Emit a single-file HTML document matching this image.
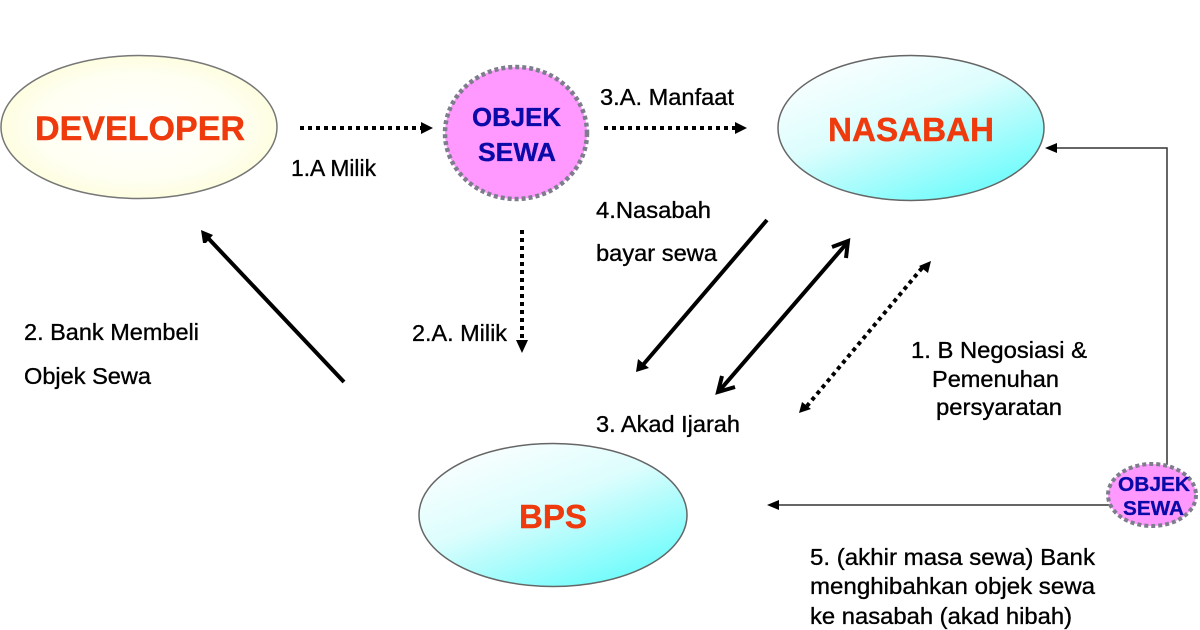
<!DOCTYPE html>
<html>
<head>
<meta charset="utf-8">
<style>
html,body{margin:0;padding:0;background:#fff}
svg{display:block}
text{font-family:"Liberation Sans",Arial,sans-serif}
.l{font-size:23.5px;fill:#000;stroke:#000;stroke-width:.35px}
.t{font-weight:bold;fill:#ee3a0c;stroke:#ee3a0c;stroke-width:.4px}
.o{font-weight:bold;fill:#0a0aa8;stroke:#0a0aa8;stroke-width:.3px}
</style>
</head>
<body>
<svg width="1200" height="630" viewBox="0 0 1200 630" xmlns="http://www.w3.org/2000/svg">
<defs>
<radialGradient id="y" cx="0.5" cy="0.5" r="0.62"><stop offset="0" stop-color="#ffffff"/><stop offset="0.6" stop-color="#fffff2"/><stop offset="1" stop-color="#fcfcd0"/></radialGradient>
<linearGradient id="c" x1="0.1" y1="0" x2="0.8" y2="1"><stop offset="0" stop-color="#ffffff"/><stop offset="0.45" stop-color="#ddfdfd"/><stop offset="1" stop-color="#66fbfb"/></linearGradient>
</defs>
<rect width="1200" height="630" fill="#fff"/>

<ellipse cx="139" cy="127" rx="138" ry="71.500" fill="url(#y)" stroke="#777" stroke-width="1.500"/>
<ellipse cx="911" cy="128" rx="133" ry="72.500" fill="url(#c)" stroke="#666" stroke-width="1.500"/>
<ellipse cx="553" cy="515" rx="134" ry="71.500" fill="url(#c)" stroke="#666" stroke-width="1.500"/>
<ellipse cx="516" cy="133" rx="71" ry="66" fill="#ff99ff" stroke="#7d7d8d" stroke-width="4.500" stroke-dasharray="4 3"/>

<text class="t" x="35" y="140" font-size="34" textLength="210" lengthAdjust="spacingAndGlyphs">DEVELOPER</text>
<text class="t" x="828" y="141" font-size="33.500" textLength="166" lengthAdjust="spacingAndGlyphs">NASABAH</text>
<text class="t" x="519" y="528" font-size="33" textLength="68" lengthAdjust="spacingAndGlyphs">BPS</text>
<text class="o" x="472" y="126" font-size="26" textLength="89" lengthAdjust="spacingAndGlyphs">OBJEK</text>
<text class="o" x="478" y="161" font-size="26" textLength="78" lengthAdjust="spacingAndGlyphs">SEWA</text>

<!-- thin connector -->
<polyline points="1167,465 1167,148 1056,148" fill="none" stroke="#333" stroke-width="1.500"/>
<polygon points="1045,148 1057,143 1057,153" fill="#000"/>
<line x1="1110" y1="505" x2="778" y2="505" stroke="#333" stroke-width="1.500"/>
<polygon points="767,505 779,500 779,510" fill="#000"/>

<ellipse cx="1152" cy="495" rx="44" ry="31" fill="#ff99ff" stroke="#7d7d8d" stroke-width="4" stroke-dasharray="4 3"/>
<text class="o" x="1118" y="491" font-size="20.500" textLength="72" lengthAdjust="spacingAndGlyphs">OBJEK</text>
<text class="o" x="1123" y="515" font-size="20.500" textLength="61" lengthAdjust="spacingAndGlyphs">SEWA</text>

<!-- dotted arrows -->
<g stroke="#000" stroke-width="4" stroke-dasharray="4 4" fill="none">
<line x1="300" y1="128" x2="421" y2="128"/>
<line x1="604" y1="128" x2="736" y2="128"/>
<line x1="522" y1="230" x2="522" y2="341"/>
<line x1="922" y1="268" x2="807" y2="406"/>
</g>
<g fill="#000">
<polygon points="433,128 421,122 421,134"/>
<polygon points="747,128 735,122 735,134"/>
<polygon points="522,353 516,340 528,340"/>
<polygon points="931,261 919,266 928,273"/>
<polygon points="799,413 802,402 811,409"/>
</g>

<!-- solid arrows -->
<g stroke="#000" stroke-width="4" fill="none">
<line x1="344" y1="382" x2="208" y2="238"/>
<line x1="767" y1="220" x2="642" y2="366"/>
<line x1="847" y1="243" x2="720" y2="390"/>
<polyline points="832,247 848,241 846,258"/>
<polyline points="722,376 718,392 735,387"/>
</g>
<polygon points="201,230 213,235 206,243 203,243" fill="#000"/>
<polygon points="636,372 638,359 649,368" fill="#000"/>

<!-- labels -->
<text class="l" x="291" y="176" textLength="85" lengthAdjust="spacingAndGlyphs">1.A Milik</text>
<text class="l" x="600" y="105" textLength="134" lengthAdjust="spacingAndGlyphs">3.A. Manfaat</text>
<text class="l" x="596" y="218" textLength="115" lengthAdjust="spacingAndGlyphs">4.Nasabah</text>
<text class="l" x="596" y="261" textLength="121" lengthAdjust="spacingAndGlyphs">bayar sewa</text>
<text class="l" x="24" y="340" textLength="175" lengthAdjust="spacingAndGlyphs">2. Bank Membeli</text>
<text class="l" x="24" y="384" textLength="127" lengthAdjust="spacingAndGlyphs">Objek Sewa</text>
<text class="l" x="412" y="341" textLength="95" lengthAdjust="spacingAndGlyphs">2.A. Milik</text>
<text class="l" x="596" y="432" textLength="144" lengthAdjust="spacingAndGlyphs">3. Akad Ijarah</text>
<text class="l" x="911" y="358" textLength="176" lengthAdjust="spacingAndGlyphs">1. B Negosiasi &amp;</text>
<text class="l" x="932" y="387" textLength="127" lengthAdjust="spacingAndGlyphs">Pemenuhan</text>
<text class="l" x="936" y="415" textLength="126" lengthAdjust="spacingAndGlyphs">persyaratan</text>
<text class="l" x="810" y="565" textLength="285" lengthAdjust="spacingAndGlyphs">5. (akhir masa sewa) Bank</text>
<text class="l" x="810" y="594" textLength="285" lengthAdjust="spacingAndGlyphs">menghibahkan objek sewa</text>
<text class="l" x="810" y="624" textLength="262" lengthAdjust="spacingAndGlyphs">ke nasabah (akad hibah)</text>
</svg>
</body>
</html>
